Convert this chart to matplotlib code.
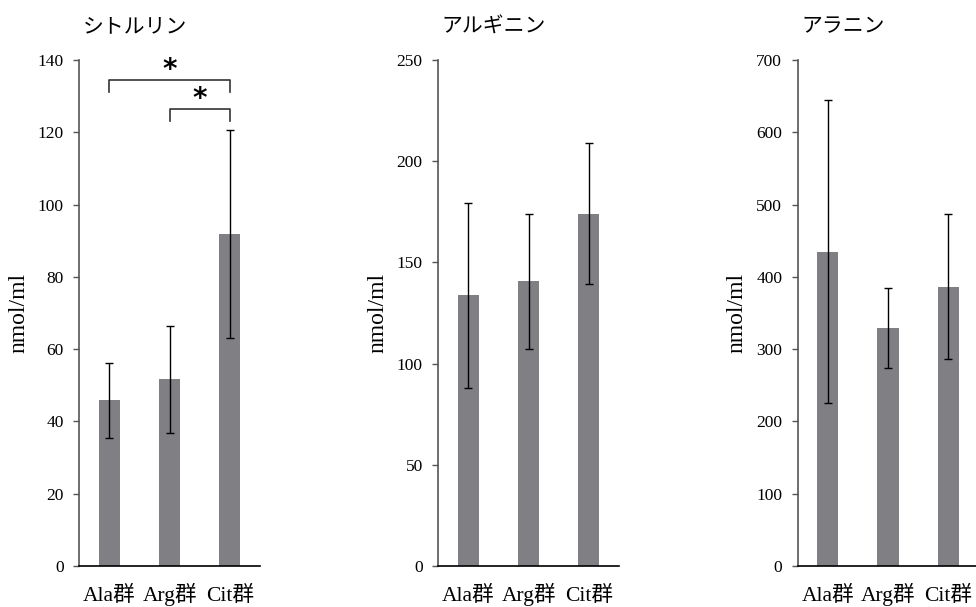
import matplotlib
matplotlib.use("Agg")
import matplotlib.pyplot as plt

# data
groups = ["Ala群", "Arg群", "Cit群"]
titles = ["シトルリン", "アルギニン", "アラニン"]

cit_mean = [45.8, 51.7, 91.9]
cit_err = [10.3, 14.8, 28.7]
arg_mean = [133.7, 140.7, 174.1]
arg_err = [45.7, 33.3, 35.0]
ala_mean = [435.0, 329.0, 386.5]
ala_err = [209.5, 55.5, 100.2]

ylims = [140, 250, 700]
ysteps = [20, 50, 100]

# significance brackets on the citrulline panel: (from, to, height, drop)
brackets = [(0, 2, 134.5, 3.4), (1, 2, 126.5, 3.4)]

FONT = ["Liberation Serif", "Noto Sans CJK JP"]
JP = ["Noto Sans CJK JP"]
BAR = "#7f7f84"

fig = plt.figure(figsize=(9.76, 6.07), dpi=100)
lefts = [79 / 976, 438 / 976, 797.5 / 976]
width = 181 / 976
bottom = 1 - 566 / 607
height = (566 - 60) / 607

means = [cit_mean, arg_mean, ala_mean]
errs = [cit_err, arg_err, ala_err]

axes = []
for i in range(3):
    ax = fig.add_axes([lefts[i], bottom, width, height])
    x = list(range(len(groups)))
    ax.bar(x, means[i], width=0.35, color=BAR, zorder=2)
    ax.errorbar(x, means[i], yerr=errs[i], fmt="none", ecolor="black",
                elinewidth=1.0, capsize=3, capthick=1.0, zorder=3)
    ax.set_xlim(-0.5, 2.5)
    ax.set_ylim(0, ylims[i])
    ax.set_yticks(range(0, ylims[i] + 1, ysteps[i]))
    ax.set_xticks(x)
    ax.set_xticklabels(groups, family=FONT, fontsize=15.5, va="baseline")
    for t in ax.get_yticklabels():
        t.set_family(FONT)
        t.set_fontsize(12.5)
    ax.tick_params(axis="x", length=0, pad=25)
    ax.tick_params(axis="y", length=4, width=1, color="#555555", direction="out", pad=7)
    for s in ["top", "right"]:
        ax.spines[s].set_visible(False)
    ax.spines["left"].set_color("#555555")
    ax.spines["left"].set_linewidth(1.2)
    ax.spines["bottom"].set_color("black")
    ax.spines["bottom"].set_linewidth(1.2)
    ax.set_ylabel("nmol/ml", family=FONT, fontsize=17, labelpad=6)
    ax.set_title(titles[i], family=JP, fontsize=15, loc="left", pad=20, x=0.02)
    axes.append(ax)

# brackets with stars
ax = axes[0]
for a, b, h, d in brackets:
    ax.plot([a, a, b, b], [h - d, h, h, h - d], color="#333333", lw=1.2,
            clip_on=False, zorder=4)
    ax.text((a + b) / 2, h + 2.6, "*", ha="center", va="center",
            fontsize=20, fontweight="bold", family="DejaVu Sans")

fig.savefig("out.png", dpi=100)
